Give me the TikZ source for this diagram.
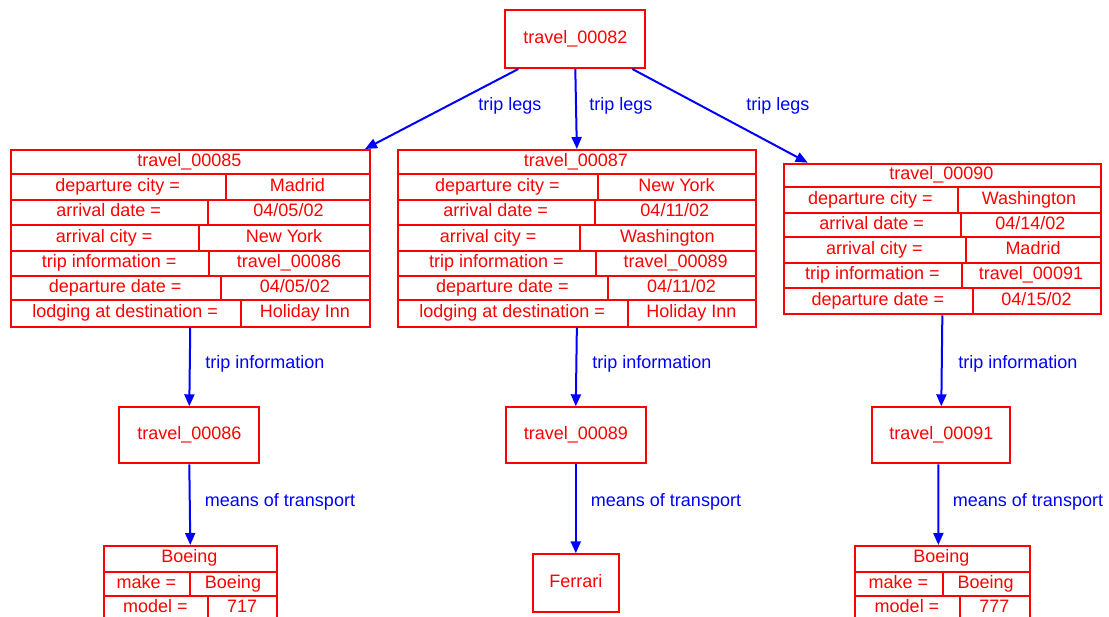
\documentclass[tikz,border=0pt]{standalone}
\usepackage{fontspec}
\setmainfont{Liberation Sans}
\usetikzlibrary{arrows.meta,calc}

\definecolor{boxred}{RGB}{255,0,0}
\definecolor{linkblue}{RGB}{0,0,255}

% one key/value row of a record table:
% #1 name, #2 x left, #3 x split, #4 x right, #5 y top, #6 y bottom, #7 key, #8 value
\newcommand\kvrow[8]{%
  \draw[cellrule] (#2,#5) -- (#4,#5);
  \draw[cellrule] (#3,#5) -- (#3,#6);
  \node[celltext] (#1k) at ({(#2+#3)/2},{(#5+#6)/2}) {#7};
  \node[celltext] (#1v) at ({(#3+#4)/2},{(#5+#6)/2}) {#8};
}

\tikzset{
  basefont/.style={font=\fontsize{18}{20}\selectfont, text height=13pt, text depth=4pt},
  celltext/.style={basefont, text=boxred, inner sep=0pt},
  cellrule/.style={draw=boxred, line width=2pt},
  recbox/.style={draw=boxred, line width=2pt, inner sep=0pt, anchor=north west},
  plainbox/.style={basefont, draw=boxred, line width=2pt, inner sep=0pt, text=boxred},
  link/.style={draw=linkblue, line width=2pt, -{Triangle[length=12pt,width=10pt]}},
  linklabel/.style={basefont, text=linkblue, inner sep=0pt},
}

\begin{document}
\begin{tikzpicture}[x=1pt,y=-1pt]
\useasboundingbox (0,0) rectangle (1109,617);
\clip (0,0) rectangle (1109,617);

% root trip
\node[plainbox, minimum width=140pt, minimum height=58pt] (t82) at (575.3,39) {travel\_00082};

% leg 1
\node[recbox, minimum width=359.5pt, minimum height=176.7pt] (t85) at (9.5,149) {};
\node[celltext] (t85h) at (189.3,161.7) {travel\_00085};
\kvrow{t85a}{9.5}{226}{369}{174.3}{200}{departure city =}{Madrid}
\kvrow{t85b}{9.5}{208}{369}{200}{225}{arrival date =}{04/05/02}
\kvrow{t85c}{9.5}{199}{369}{225}{250.7}{arrival city =}{New York}
\kvrow{t85d}{9.5}{209}{369}{250.7}{275.7}{trip information =}{travel\_00086}
\kvrow{t85e}{9.5}{220.7}{369}{275.7}{300}{departure date =}{04/05/02}
\kvrow{t85f}{9.5}{240.7}{369}{300}{325.7}{lodging at destination =}{Holiday Inn}

% leg 2
\node[recbox, minimum width=358.3pt, minimum height=176.7pt] (t87) at (396.7,149) {};
\node[celltext] (t87h) at (575.8,161.7) {travel\_00087};
\kvrow{t87a}{396.7}{598}{755}{174.3}{200}{departure city =}{New York}
\kvrow{t87b}{396.7}{594.7}{755}{200}{225}{arrival date =}{04/11/02}
\kvrow{t87c}{396.7}{579.7}{755}{225}{250.7}{arrival city =}{Washington}
\kvrow{t87d}{396.7}{596.3}{755}{250.7}{275.7}{trip information =}{travel\_00089}
\kvrow{t87e}{396.7}{608}{755}{275.7}{300}{departure date =}{04/11/02}
\kvrow{t87f}{396.7}{627.7}{755}{300}{325.7}{lodging at destination =}{Holiday Inn}

% leg 3
\node[recbox, minimum width=317.3pt, minimum height=150.6pt] (t90) at (782.7,162.7) {};
\node[celltext] (t90h) at (941.3,174.7) {travel\_00090};
\kvrow{t90a}{782.7}{958}{1100}{186.7}{212.7}{departure city =}{Washington}
\kvrow{t90b}{782.7}{960.7}{1100}{212.7}{237.3}{arrival date =}{04/14/02}
\kvrow{t90c}{782.7}{966}{1100}{237.3}{262.7}{arrival city =}{Madrid}
\kvrow{t90d}{782.7}{962}{1100}{262.7}{288.3}{trip information =}{travel\_00091}
\kvrow{t90e}{782.7}{973}{1100}{288.3}{313.3}{departure date =}{04/15/02}

% trip information records
\node[plainbox, minimum width=139.7pt, minimum height=56pt] (t86) at (189.3,435.3) {travel\_00086};
\node[plainbox, minimum width=139.6pt, minimum height=56pt] (t89) at (575.8,435.3) {travel\_00089};
\node[plainbox, minimum width=138.3pt, minimum height=56pt] (t91) at (941.3,435.3) {travel\_00091};

% means of transport
\node[recbox, minimum width=173.4pt, minimum height=76pt] (b86) at (102.6,545) {};
\node[celltext] (b86h) at (189.3,558.3) {Boeing};
\kvrow{b86a}{102.6}{190}{276}{571.7}{595.7}{make =}{Boeing}
\kvrow{b86b}{102.6}{208.3}{276}{595.7}{619.7}{model =}{717}

\node[plainbox, minimum width=85.6pt, minimum height=57.4pt] (fer) at (575.8,583) {Ferrari};

\node[recbox, minimum width=174.7pt, minimum height=76pt] (b91) at (854,545) {};
\node[celltext] (b91h) at (941.3,558.3) {Boeing};
\kvrow{b91a}{854}{942.7}{1028.7}{571.7}{595.7}{make =}{Boeing}
\kvrow{b91b}{854}{960}{1028.7}{595.7}{619.7}{model =}{777}

% connectors
\draw[link] ($(t82.south)+(-57,0)$) -- ($(t85.north east)+(-6,0)$);
\draw[link] (t82.south) -- (t87.north);
\draw[link] ($(t82.south)+(57,0)$) -- ($(t90.north west)+(25,0)$);
\node[linklabel] (l1) at (510,106) {trip legs};
\node[linklabel] (l2) at (621,106) {trip legs};
\node[linklabel] (l3) at (778,106) {trip legs};

\draw[link] (t85.south) -- (t86.north);
\draw[link] (t87.south) -- (t89.north);
\draw[link] (t90.south) -- (t91.north);
\node[linklabel] (l4) at (265,364) {trip information};
\node[linklabel] (l5) at (652,364) {trip information};
\node[linklabel] (l6) at (1018,364) {trip information};

\draw[link] (t86.south) -- (b86.north);
\draw[link] (t89.south) -- (fer.north);
\draw[link] ($(t91.south)+(-3,0)$) -- ($(b91.north)+(-4,0)$);
\node[linklabel] (l7) at (280,502) {means of transport};
\node[linklabel] (l8) at (666,502) {means of transport};
\node[linklabel] (l9) at (1028,502) {means of transport};
\end{tikzpicture}
\end{document}
